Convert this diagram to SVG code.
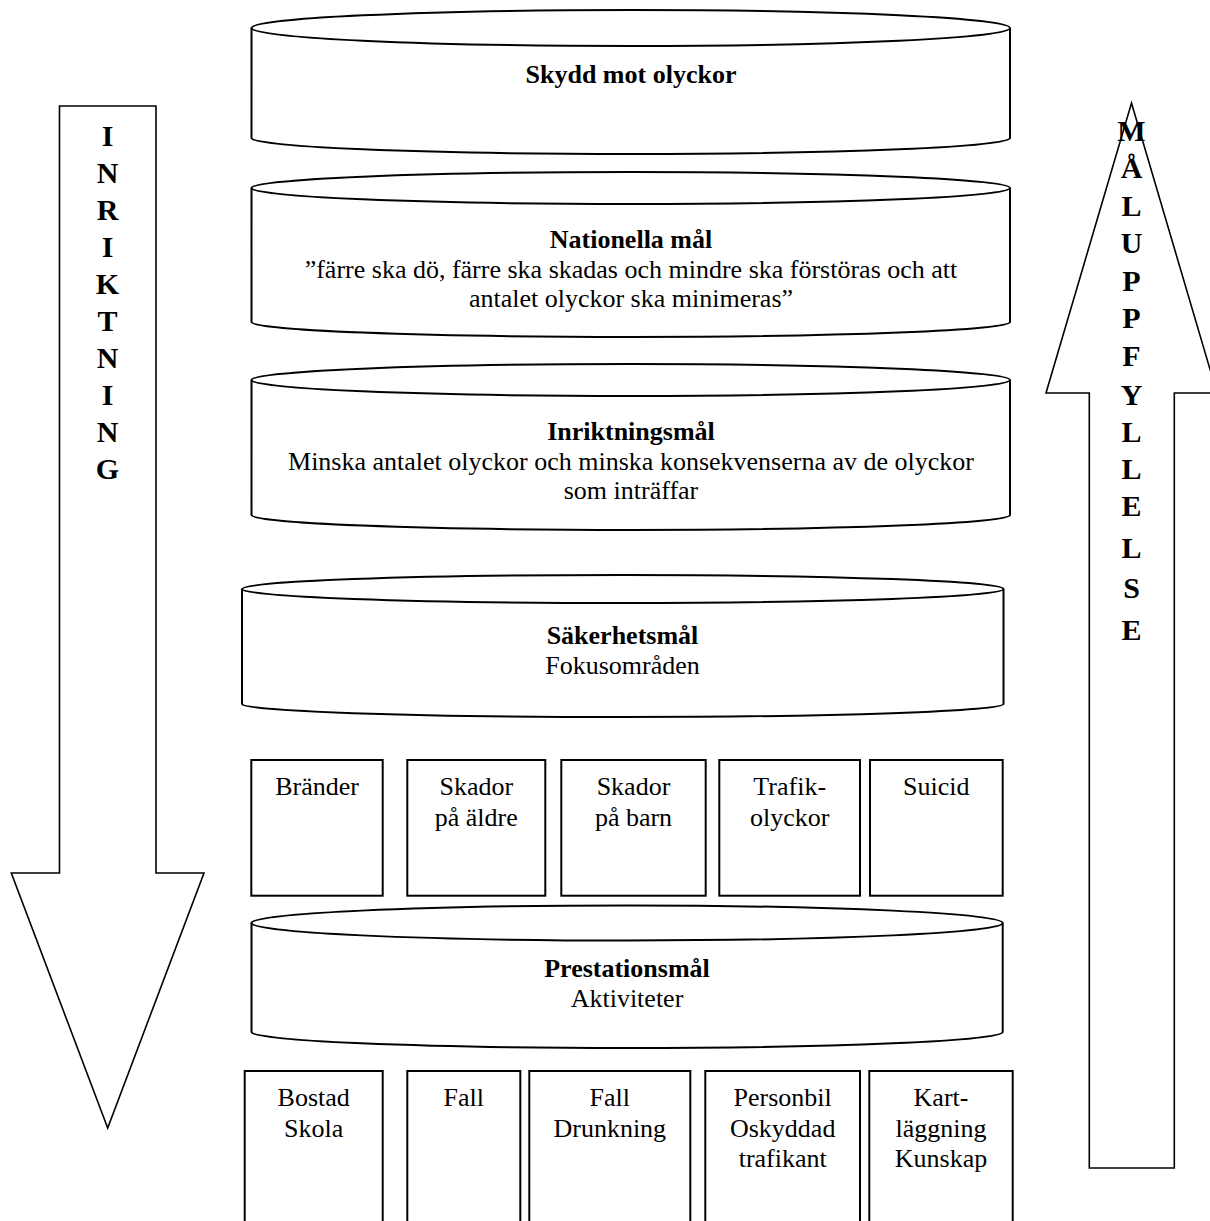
<svg xmlns="http://www.w3.org/2000/svg" width="1210" height="1221" viewBox="0 0 1210 1221" font-family="'Liberation Serif', Tinos, 'Times New Roman', Times, 'DejaVu Serif', serif">
<style>
.s{fill:#fff;stroke:#000;stroke-width:2}
.f{fill:none;stroke:#000;stroke-width:2}
.a{fill:#fff;stroke:#000;stroke-width:1.6}
text{font-family:'Liberation Serif', Tinos, 'Times New Roman', Times, 'DejaVu Serif', serif;font-size:26px;fill:#000;text-anchor:middle}
.b{font-weight:bold}
.v{font-weight:bold;font-size:30px}
</style>
<rect width="1210" height="1221" fill="#fff"/>
<g id="arrow-inriktning">
<path class="a" d="M59.5,106 L156,106 L156,873 L204,873 L107.7,1128 L11.3,873 L59.5,873 Z"/>
<text class="v" x="107.5" y="146">I</text>
<text class="v" x="107.5" y="183">N</text>
<text class="v" x="107.5" y="220">R</text>
<text class="v" x="107.5" y="257">I</text>
<text class="v" x="107.5" y="294">K</text>
<text class="v" x="107.5" y="331">T</text>
<text class="v" x="107.5" y="368">N</text>
<text class="v" x="107.5" y="405">I</text>
<text class="v" x="107.5" y="442">N</text>
<text class="v" x="107.5" y="479">G</text>
</g>
<g id="arrow-maluppfyllelse">
<path class="a" d="M1089.3,1168 L1089.3,393 L1046,393 L1131.5,103 L1217,393 L1174.3,393 L1174.3,1168 Z"/>
<text class="v" x="1131.5" y="141">M</text>
<text class="v" x="1131.5" y="178">Å</text>
<text class="v" x="1131.5" y="216">L</text>
<text class="v" x="1131.5" y="253">U</text>
<text class="v" x="1131.5" y="291">P</text>
<text class="v" x="1131.5" y="328">P</text>
<text class="v" x="1131.5" y="366">F</text>
<text class="v" x="1131.5" y="405">Y</text>
<text class="v" x="1131.5" y="442">L</text>
<text class="v" x="1131.5" y="479">L</text>
<text class="v" x="1131.5" y="516">E</text>
<text class="v" x="1131.5" y="558">L</text>
<text class="v" x="1131.5" y="598">S</text>
<text class="v" x="1131.5" y="640">E</text>
</g>
<g id="skydd">
<path class="s" d="M251.5,28 A379.25,18 0 0 1 1010,28 L1010,138 A379.25,16 0 0 1 251.5,138 Z"/>
<path class="f" d="M251.5,28 A379.25,18 0 0 0 1010,28"/>
<text class="b" x="631" y="83">Skydd mot olyckor</text>
</g>
<g id="nationella">
<path class="s" d="M251.5,188 A379.25,16 0 0 1 1010,188 L1010,322 A379.25,15 0 0 1 251.5,322 Z"/>
<path class="f" d="M251.5,188 A379.25,16 0 0 0 1010,188"/>
<text class="b" x="631" y="248">Nationella mål</text>
<text x="631" y="278">”färre ska dö, färre ska skadas och mindre ska förstöras och att</text>
<text x="631" y="307">antalet olyckor ska minimeras”</text>
</g>
<g id="inriktningsmal">
<path class="s" d="M251.5,380 A379.25,16 0 0 1 1010,380 L1010,515 A379.25,15 0 0 1 251.5,515 Z"/>
<path class="f" d="M251.5,380 A379.25,16 0 0 0 1010,380"/>
<text class="b" x="631" y="440">Inriktningsmål</text>
<text x="631" y="470">Minska antalet olyckor och minska konsekvenserna av de olyckor</text>
<text x="631" y="499">som inträffar</text>
</g>
<g id="sakerhetsmal">
<path class="s" d="M242,589 A380.75,14 0 0 1 1003.5,589 L1003.5,704 A380.75,13 0 0 1 242,704 Z"/>
<path class="f" d="M242,589 A380.75,14 0 0 0 1003.5,589"/>
<text class="b" x="622.5" y="644">Säkerhetsmål</text>
<text x="622.5" y="674">Fokusområden</text>
</g>
<g id="brander"><rect class="s" x="251.3" y="760" width="131.4" height="135.7"/><text x="317" y="795">Bränder</text></g>
<g id="skador-aldre"><rect class="s" x="407.3" y="760" width="138" height="135.7"/><text x="476.3" y="795">Skador</text><text x="476.3" y="826">på äldre</text></g>
<g id="skador-barn"><rect class="s" x="561.3" y="760" width="144.4" height="135.7"/><text x="633.5" y="795">Skador</text><text x="633.5" y="826">på barn</text></g>
<g id="trafikolyckor"><rect class="s" x="719.3" y="760" width="140.7" height="135.7"/><text x="789.7" y="795">Trafik-</text><text x="789.7" y="826">olyckor</text></g>
<g id="suicid"><rect class="s" x="870" y="760" width="132.7" height="135.7"/><text x="936.3" y="795">Suicid</text></g>
<g id="prestationsmal">
<path class="s" d="M251.5,923 A375.6,17.5 0 0 1 1002.7,923 L1002.7,1032 A375.6,16 0 0 1 251.5,1032 Z"/>
<path class="f" d="M251.5,923 A375.6,17.5 0 0 0 1002.7,923"/>
<text class="b" x="627" y="977">Prestationsmål</text>
<text x="627" y="1007">Aktiviteter</text>
</g>
<g id="bostad-skola"><rect class="s" x="244.7" y="1071" width="138" height="170"/><text x="313.7" y="1106">Bostad</text><text x="313.7" y="1137">Skola</text></g>
<g id="fall"><rect class="s" x="407.3" y="1071" width="113" height="170"/><text x="463.8" y="1106">Fall</text></g>
<g id="fall-drunkning"><rect class="s" x="529.3" y="1071" width="161" height="170"/><text x="609.8" y="1106">Fall</text><text x="609.8" y="1137">Drunkning</text></g>
<g id="personbil"><rect class="s" x="705.3" y="1071" width="154.7" height="170"/><text x="782.7" y="1106">Personbil</text><text x="782.7" y="1137">Oskyddad</text><text x="782.7" y="1167">trafikant</text></g>
<g id="kartlaggning"><rect class="s" x="869.3" y="1071" width="143.4" height="170"/><text x="941" y="1106">Kart-</text><text x="941" y="1137">läggning</text><text x="941" y="1167">Kunskap</text></g>
<g id="connectors"></g>
</svg>
